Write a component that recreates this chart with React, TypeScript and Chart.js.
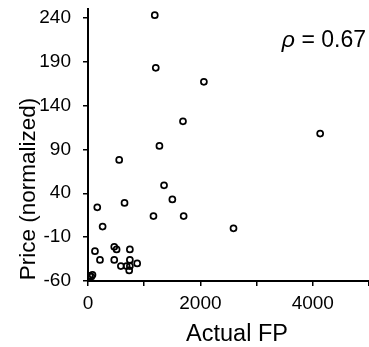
import React, { useEffect, useRef } from "react";
import { Chart, registerables, ScatterController } from "chart.js";

Chart.register(...registerables);

class FlatScatter extends (ScatterController as any) {
  getMaxOverflow() {
    return 0;
  }
}
(FlatScatter as any).id = "flatScatter";
(FlatScatter as any).defaults = (ScatterController as any).defaults;
(FlatScatter as any).overrides = (ScatterController as any).overrides;
Chart.register(FlatScatter as any);

const actualFP = [1188, 1206, 2062, 1690, 4131, 1271, 555, 1353, 1501, 1165, 1702, 650, 165, 260, 2589, 124, 213, 467, 509, 745, 467, 745, 585, 686, 745, 875, 733, 30, 60, 80];
const price = [243, 183, 167, 122, 108, 94, 78, 49, 33, 14, 14, 29, 24, 2, 0, -26, -36, -21, -24, -24, -36, -36, -43, -43, -43, -40, -48, -54, -55, -53];
const yTicks = [-60, -10, 40, 90, 140, 190, 240];
const xTicks = [0, 1000, 2000, 3000, 4000, 5000];
const xLabels = ["0", "", "2000", "", "4000", ""];
const xTitle = "Actual FP";
const yTitle = "Price (normalized)";
const annotation = { symbol: "ρ", rest: " = 0.67" };

const FONT = "Arial, 'Liberation Sans', sans-serif";

export default function App() {
  const ref = useRef<HTMLCanvasElement>(null);
  useEffect(() => {
    if (!ref.current) return;
    const textPlugin = {
      id: "texts",
      afterDraw(chart: any) {
        const ctx = chart.ctx;
        ctx.save();
        ctx.fillStyle = "#000";
        ctx.textBaseline = "alphabetic";
        ctx.textAlign = "left";
        ctx.font = `23px ${FONT}`;
        const restW = ctx.measureText(annotation.rest).width;
        ctx.font = `italic 23px ${FONT}`;
        const symW = ctx.measureText(annotation.symbol).width;
        const start = 366 - restW - symW;
        ctx.fillText(annotation.symbol, start, 47);
        ctx.font = `23px ${FONT}`;
        ctx.fillText(annotation.rest, start + symW, 47);
        ctx.textAlign = "center";
        ctx.font = `23.5px ${FONT}`;
        ctx.fillText(xTitle, 237, 341);
        ctx.translate(35, 189);
        ctx.rotate(-Math.PI / 2);
        ctx.font = `22.5px ${FONT}`;
        ctx.fillText(yTitle, 0, 0);
        ctx.restore();
      },
    };
    const chart = new Chart(ref.current, {
      type: "flatScatter" as any,
      data: {
        datasets: [
          {
            data: actualFP.map((x, i) => ({ x, y: price[i] })),
            showLine: false,
            pointRadius: 3,
            pointHoverRadius: 3,
            pointBorderWidth: 1.7,
            borderColor: "#000",
            backgroundColor: "rgba(0,0,0,0)",
          } as any,
        ],
      },
      options: {
        responsive: false,
        animation: false,
        events: [],
        layout: { padding: { top: 9, left: 0, right: 0, bottom: 0 } },
        plugins: { legend: { display: false }, tooltip: { enabled: false } },
        scales: {
          x: {
            type: "linear",
            min: 0,
            max: 5000,
            afterBuildTicks: (s: any) => {
              s.ticks = xTicks.map((v) => ({ value: v }));
            },
            afterFit: (s: any) => {
              s.height = 66;
              s.paddingLeft = 0;
              s.paddingRight = 0;
            },
            border: { display: true, color: "#000", width: 2 },
            grid: { display: true, drawOnChartArea: false, drawTicks: true, tickLength: 5, color: "#000", lineWidth: 1.5 },
            ticks: {
              color: "#000",
              font: { family: FONT, size: 19 },
              padding: 6,
              maxRotation: 0,
              autoSkip: false,
              callback: (v: any, i: number) => xLabels[i],
            },
            title: { display: false },
          },
          y: {
            type: "linear",
            min: -60,
            max: 250,
            afterBuildTicks: (s: any) => {
              s.ticks = yTicks.map((v) => ({ value: v }));
            },
            afterFit: (s: any) => {
              s.width = 88;
              s.paddingTop = 0;
              s.paddingBottom = 0;
            },
            border: { display: true, color: "#000", width: 2 },
            grid: { display: true, drawOnChartArea: false, drawTicks: true, tickLength: 5, color: "#000", lineWidth: 1.5 },
            ticks: {
              color: "#000",
              font: { family: FONT, size: 19 },
              padding: 12,
              autoSkip: false,
              callback: (v: any) => String(v),
            },
            title: { display: false },
          },
        },
      } as any,
      plugins: [textPlugin],
    });
    return () => chart.destroy();
  }, []);
  return (
    <div style={{ position: "fixed", left: 0, top: 0, width: 369, height: 347, background: "#fff" }}>
      <canvas ref={ref} width={369} height={347} />
    </div>
  );
}
